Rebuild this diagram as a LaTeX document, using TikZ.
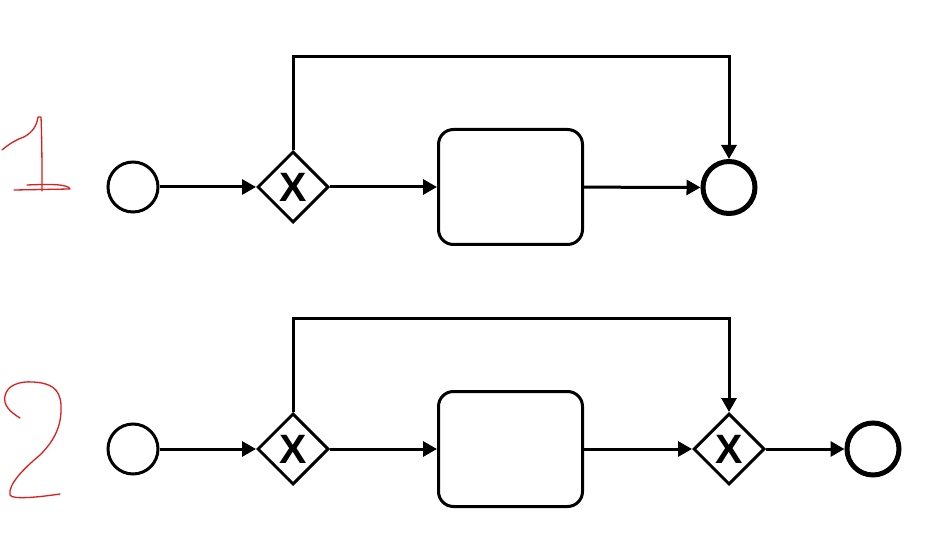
\documentclass[tikz,border=0pt]{standalone}
\usepackage{fontspec}
\setmainfont{Liberation Sans}
\usetikzlibrary{arrows.meta,shapes.geometric}
\definecolor{hand}{RGB}{222,30,30}
\tikzset{
  startev/.style={circle,draw,line width=3pt,minimum size=50pt,inner sep=0pt},
  endev/.style={circle,draw,line width=5pt,minimum size=52pt,inner sep=0pt},
  gate/.style={diamond,draw,line width=3pt,minimum width=71pt,minimum height=71pt,inner sep=0pt,aspect=1,font=\fontsize{41}{41}\selectfont\bfseries},
  task/.style={draw,line width=3pt,rounded corners=15pt,minimum width=144pt,minimum height=115pt,inner sep=0pt},
  flow/.style={line width=3pt,-{Triangle[length=14pt,width=15pt]}},
  handw/.style={draw=hand,line width=1.3pt,line cap=round,line join=round}
}
\begin{document}
\begin{tikzpicture}[x=1pt,y=-1pt]
\useasboundingbox[fill=white] (0,0) rectangle (948,553);
% row 1
\node[startev] (s1) at (133,187) {};
\node[gate] (g1) at (293,187) {X};
\node[task] (t1) at (510.5,187) {};
\node[endev] (e1) at (729,187.5) {};
\coordinate (l1a) at (293,57);
\coordinate (l1b) at (729,57);
\draw[flow] (s1) -- (g1);
\draw[flow] (g1) -- (t1);
\draw[flow] (t1) -- (e1);
\draw[flow] (g1.north) -- (l1a) -- (l1b) -- (e1.north);
% row 2
\node[startev] (s2) at (133,449) {};
\node[gate] (g2) at (293,449) {X};
\node[task] (t2) at (510.5,449) {};
\node[gate] (g3) at (729,449) {X};
\node[endev] (e2) at (873,449) {};
\coordinate (l2a) at (293,319);
\coordinate (l2b) at (729,319);
\draw[flow] (s2) -- (g2);
\draw[flow] (g2) -- (t2);
\draw[flow] (t2) -- (g3);
\draw[flow] (g3) -- (e2);
\draw[flow] (g2.north) -- (l2a) -- (l2b) -- (g3.north);
% handwritten numbers
\draw[handw] (2,150) .. controls (10,143) and (18,139) .. (24,137)
  .. controls (33,132) and (37,125) .. (38,117) -- (41,117)
  .. controls (42,140) and (42,170) .. (42,191);
\draw[handw] (14,190) -- (70,189) .. controls (68,184) and (50,184) .. (27,185);
\draw[handw] (20,418) .. controls (10,412) and (3,405) .. (5,396)
  .. controls (7,385) and (20,381) .. (33,382)
  .. controls (50,383) and (60,388) .. (61,405)
  .. controls (62,425) and (55,440) .. (40,455)
  .. controls (22,470) and (8,485) .. (10,495)
  .. controls (12,500) and (40,497) .. (60,494);
\end{tikzpicture}
\end{document}
